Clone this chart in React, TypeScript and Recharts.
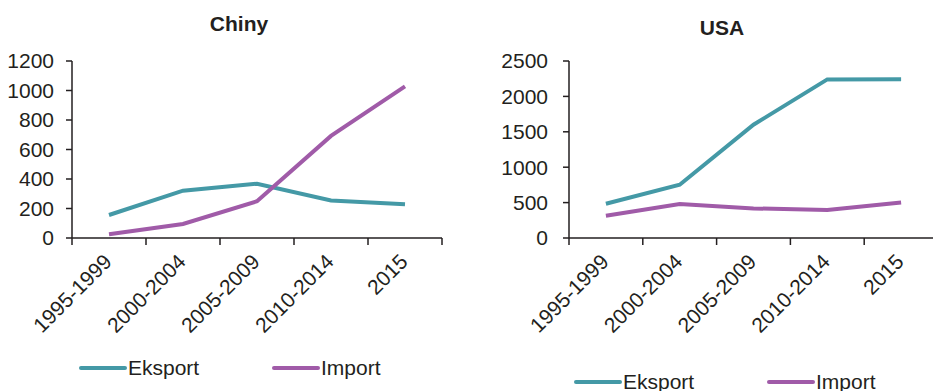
import React from 'react';
import { LineChart, Line, XAxis, YAxis } from 'recharts';

const periods = ['1995-1999', '2000-2004', '2005-2009', '2010-2014', '2015'];
const chinaExport = [156, 321, 368, 255, 228];
const chinaImport = [25, 95, 249, 692, 1028];
const usaExport = [484, 753, 1600, 2240, 2243];
const usaImport = [315, 480, 418, 395, 503];
const chinaTicks = [0, 200, 400, 600, 800, 1000, 1200];
const usaTicks = [0, 500, 1000, 1500, 2000, 2500];
const seriesNames = ['Eksport', 'Import'];

const TEAL = '#4499a6';
const PURPLE = '#a05ba8';
const INK = '#231f20';
const FONT = '"Liberation Sans", Arial, sans-serif';
const FS = 21;

const chinaData = periods.map((p, i) => ({ period: p, Eksport: chinaExport[i], Import: chinaImport[i] }));
const usaData = periods.map((p, i) => ({ period: p, Eksport: usaExport[i], Import: usaImport[i] }));

const makeTick = (fallbackHalf: number) => (props: any) => {
  const { x, y, payload, index } = props;
  const off = payload && payload.offset ? payload.offset : fallbackHalf;
  const last = index === periods.length - 1;
  return (
    <g>
      <line x1={x - off} x2={x - off} y1={y} y2={y + 7} stroke={INK} strokeWidth={1.5} />
      {last && <line x1={x + off} x2={x + off} y1={y} y2={y + 7} stroke={INK} strokeWidth={1.5} />}
      <text
        x={x + 4}
        y={y + 25}
        transform={`rotate(-45, ${x + 4}, ${y + 25})`}
        textAnchor="end"
        fill={INK}
        fontSize={FS}
        fontFamily={FONT}
      >
        {payload.value}
      </text>
    </g>
  );
};

type PanelProps = {
  data: any[];
  left: number;
  width: number;
  marginRight: number;
  yWidth: number;
  yMargin: number;
  ticks: number[];
};

const Panel = ({ data, left, width, marginRight, yWidth, yMargin, ticks }: PanelProps) => {
  const plotW = width - marginRight - yWidth;
  return (
    <div style={{ position: 'absolute', left, top: 0 }}>
      <LineChart width={width} height={391} data={data} margin={{ top: 61, right: marginRight, bottom: 0, left: 0 }}>
        <XAxis
          dataKey="period"
          scale="band"
          height={153}
          interval={0}
          tickSize={0}
          tickMargin={0}
          tickLine={false}
          axisLine={{ stroke: INK, strokeWidth: 1.5 }}
          tick={makeTick(plotW / periods.length / 2)}
        />
        <YAxis
          width={yWidth}
          domain={[ticks[0], ticks[ticks.length - 1]]}
          ticks={ticks}
          interval={0}
          tickSize={6}
          tickMargin={yMargin}
          axisLine={{ stroke: INK, strokeWidth: 1.5 }}
          tickLine={{ stroke: INK, strokeWidth: 1.5 }}
          tick={{ fill: INK, fontSize: FS, fontFamily: FONT }}
        />
        <Line dataKey="Eksport" stroke={TEAL} strokeWidth={4} dot={false} isAnimationActive={false} />
        <Line dataKey="Import" stroke={PURPLE} strokeWidth={4} dot={false} isAnimationActive={false} />
      </LineChart>
    </div>
  );
};

const LegendRow = ({ x, y }: { x: number; y: number }) => {
  const colors = [TEAL, PURPLE];
  return (
    <g>
      {seriesNames.map((n, i) => {
        const lx = x + i * 193;
        return (
          <g key={n}>
            <line x1={lx} x2={lx + 44} y1={y} y2={y} stroke={colors[i]} strokeWidth={4} strokeLinecap="round" />
            <text x={lx + 47} y={y + 7} fontSize={FS} fill={INK} fontFamily={FONT}>
              {n}
            </text>
          </g>
        );
      })}
    </g>
  );
};

export default function App() {
  return (
    <div style={{ position: 'absolute', left: 0, top: 0, width: 933, height: 391, overflow: 'hidden', background: '#fff' }}>
      <Panel data={chinaData} left={0} width={466} marginRight={24} yWidth={72} yMargin={12} ticks={chinaTicks} />
      <Panel data={usaData} left={466} width={472} marginRight={0} yWidth={103} yMargin={15} ticks={usaTicks} />
      <svg width={933} height={391} style={{ position: 'absolute', left: 0, top: 0, pointerEvents: 'none' }}>
        <text x={239} y={31} textAnchor="middle" fontSize={21} fontWeight="bold" fill={INK} fontFamily={FONT}>
          Chiny
        </text>
        <text x={722} y={35} textAnchor="middle" fontSize={21} fontWeight="bold" fill={INK} fontFamily={FONT}>
          USA
        </text>
        <LegendRow x={81} y={368} />
        <LegendRow x={576} y={382} />
      </svg>
    </div>
  );
}
